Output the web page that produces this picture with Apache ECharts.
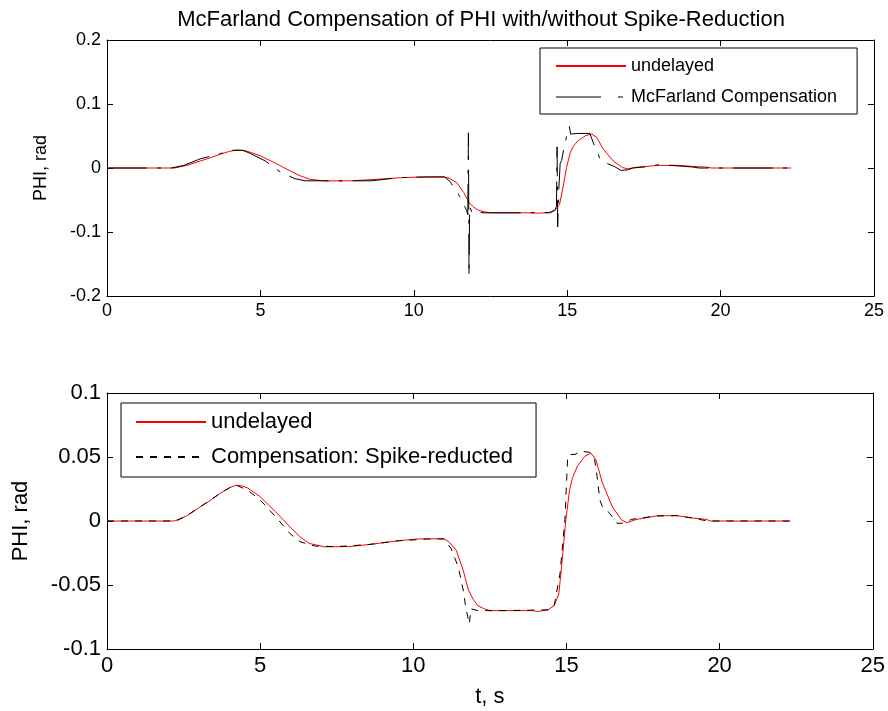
<!DOCTYPE html>
<html>
<head>
<meta charset="utf-8">
<script src="https://cdn.jsdelivr.net/npm/echarts@6/dist/echarts.min.js"></script>
<style>
  html, body { margin: 0; padding: 0; background: #fff; }
  #chart { width: 888px; height: 711px; }
</style>
</head>
<body>
<div id="chart"></div>
<script>
// Roll angle PHI (rad) over time t (s)
const tUndelayed = [0, 2.2, 2.6, 3.06, 3.4, 3.7, 4.0, 4.22, 4.4, 4.6, 5.0, 5.5, 5.97, 6.3, 6.6, 7.1, 7.9, 8.7, 9.5, 10.2, 11.0, 11.15, 11.4, 11.63, 11.8, 11.95, 12.1, 12.3, 12.5, 13.9, 14.06, 14.4, 14.6, 14.75, 14.86, 14.98, 15.1, 15.2, 15.36, 15.6, 15.8, 15.96, 16.17, 16.5, 16.8, 16.97, 17.3, 17.95, 18.6, 19.1, 19.56, 19.7, 22.3];
const phiUndelayed = [0, 0, 0.004, 0.0113, 0.0165, 0.0217, 0.026, 0.028, 0.0275, 0.0257, 0.019, 0.0073, -0.0045, -0.0123, -0.0175, -0.0202, -0.02, -0.018, -0.0154, -0.014, -0.0139, -0.016, -0.0228, -0.0385, -0.054, -0.061, -0.066, -0.0685, -0.07, -0.07, -0.0707, -0.0694, -0.066, -0.057, -0.031, 0.001, 0.024, 0.034, 0.043, 0.0505, 0.053, 0.048, 0.03, 0.011, 0.0008, -0.0013, 0.0013, 0.004, 0.0042, 0.0024, 0.0013, 0, 0];

const tMcFarland = [0, 2.1, 2.5, 3.06, 3.7, 4.03, 4.43, 4.68, 5.16, 5.65, 6.13, 6.46, 7.0, 8.6, 9.0, 9.5, 10.5, 11.0, 11.18, 11.5, 11.72, 11.76, 11.78, 11.8, 11.82, 11.9, 12.0, 12.1, 12.3, 14.45, 14.6, 14.65, 14.67, 14.69, 14.72, 14.77, 14.82, 14.9, 14.98, 15.07, 15.11, 15.36, 15.74, 15.9, 16.0, 16.08, 16.17, 16.53, 16.75, 16.97, 17.13, 17.6, 17.95, 18.4, 19.08, 19.3, 22.3];
const phiMcFarland = [0, 0, 0.004, 0.0146, 0.0225, 0.0277, 0.0277, 0.0225, 0.011, -0.0063, -0.0167, -0.02, -0.02, -0.02, -0.018, -0.015, -0.014, -0.014, -0.021, -0.045, -0.066, -0.073, 0.055, -0.169, -0.06, -0.07, -0.071, -0.069, -0.07, -0.07, -0.066, -0.06, 0.033, -0.092, -0.04, 0.007, 0.012, 0.033, 0.049, 0.065, 0.053, 0.054, 0.054, 0.033, 0.023, 0.012, 0.0094, 0.0026, -0.0037, -0.003, 0, 0.002, 0.005, 0.004, 0.0016, 0, 0];

const tSpikeReduced = [0, 2.25, 2.6, 3.06, 3.7, 4.0, 4.22, 4.6, 5.0, 5.5, 5.97, 6.3, 6.8, 7.5, 8.5, 9.5, 10.5, 11.0, 11.23, 11.47, 11.63, 11.72, 11.83, 11.88, 12.1, 13.0, 14.4, 14.6, 14.79, 14.95, 15.04, 15.12, 15.28, 15.44, 15.76, 15.92, 16.0, 16.09, 16.17, 16.41, 16.65, 16.8, 17.13, 17.95, 18.6, 19.1, 19.6, 22.3];
const phiSpikeReduced = [0, 0, 0.004, 0.0113, 0.0217, 0.026, 0.028, 0.024, 0.0165, 0.0034, -0.0097, -0.0162, -0.0196, -0.02, -0.0185, -0.0155, -0.014, -0.014, -0.0215, -0.036, -0.054, -0.0686, -0.0804, -0.0686, -0.07, -0.07, -0.0694, -0.066, -0.041, 0.001, 0.0505, 0.052, 0.052, 0.0545, 0.0537, 0.048, 0.0348, 0.0165, 0.0113, 0.006, -0.0018, -0.0018, 0.0013, 0.004, 0.0042, 0.0024, 0, 0];

// Axis ticks
const tTicks = [0, 5, 10, 15, 20, 25];
const phiTicksTop = [-0.2, -0.1, 0, 0.1, 0.2];
const phiTicksBottom = [-0.1, -0.05, 0, 0.05, 0.1];

const titleText = 'McFarland Compensation of PHI with/without Spike-Reduction';
const nameUndelayed = 'undelayed';
const nameMcFarland = 'McFarland Compensation';
const nameSpikeReduced = 'Compensation: Spike-reducted';

const FONT = 'Liberation Sans, Arial, Helvetica, sans-serif';
const DASH_DOT = [40, 10, 4, 10];
const DASHED = [7, 7];

const pairs = (xs, ys) => xs.map((x, i) => [x, ys[i]]);
const fmt = v => String(Number(v.toFixed(3)));

const tickRange = ticks => ({
  min: ticks[0],
  max: ticks[ticks.length - 1],
  interval: ticks[1] - ticks[0]
});

function xAxisFor(grid, position, showLabels, fontSize, name) {
  return Object.assign({
    type: 'value',
    gridIndex: grid,
    position: position,
    axisLine: { show: true, onZero: false, lineStyle: { color: '#000', width: 1 } },
    axisTick: { show: true, inside: true, length: 6, lineStyle: { color: '#000' } },
    axisLabel: { show: showLabels, color: '#000', fontSize: fontSize, fontFamily: FONT, margin: 6, formatter: fmt },
    splitLine: { show: false },
    name: name || '',
    nameLocation: 'middle',
    nameGap: 37,
    nameTextStyle: { color: '#000', fontSize: fontSize, fontFamily: FONT }
  }, tickRange(tTicks));
}

function yAxisFor(grid, position, showLabels, fontSize, ticks, nameGap) {
  return Object.assign({
    type: 'value',
    gridIndex: grid,
    position: position,
    axisLine: { show: true, onZero: false, lineStyle: { color: '#000', width: 1 } },
    axisTick: { show: true, inside: true, length: 6, lineStyle: { color: '#000' } },
    axisLabel: { show: showLabels, color: '#000', fontSize: fontSize, fontFamily: FONT, margin: 6, formatter: fmt },
    splitLine: { show: false },
    name: showLabels ? 'PHI, rad' : '',
    nameLocation: 'middle',
    nameRotate: 90,
    nameGap: nameGap,
    nameTextStyle: { color: '#000', fontSize: fontSize, fontFamily: FONT }
  }, tickRange(ticks));
}

// Legend swatches show only the line, no marker
const hiddenMarker = { color: 'rgba(0,0,0,0)', borderColor: 'rgba(0,0,0,0)', borderWidth: 0, opacity: 0 };

function legendFor(left, top, padding, fontSize, items) {
  return {
    orient: 'vertical',
    left: left,
    top: top,
    padding: padding,
    itemGap: 13,
    itemWidth: 70,
    itemHeight: 14,
    borderColor: '#000',
    borderWidth: 1,
    borderRadius: 0,
    backgroundColor: '#fff',
    selectedMode: false,
    itemStyle: hiddenMarker,
    textStyle: { color: '#000', fontSize: fontSize, fontFamily: FONT, lineHeight: fontSize },
    data: items
  };
}

const chart = echarts.init(document.getElementById('chart'), null, { renderer: 'canvas' });

chart.setOption({
  backgroundColor: '#fff',
  animation: false,
  title: {
    text: titleText,
    left: 476,
    textAlign: 'center',
    top: 4,
    textStyle: { color: '#000', fontSize: 22, fontWeight: 'normal', fontFamily: FONT }
  },
  grid: [
    { left: 107, right: 14, top: 40, height: 256 },
    { left: 107, right: 14, top: 393, height: 256 }
  ],
  xAxis: [
    xAxisFor(0, 'bottom', true, 18),
    xAxisFor(1, 'bottom', true, 22, 't, s'),
    xAxisFor(0, 'top', false, 18),
    xAxisFor(1, 'top', false, 22)
  ],
  yAxis: [
    yAxisFor(0, 'left', true, 18, phiTicksTop, 57),
    yAxisFor(1, 'left', true, 22, phiTicksBottom, 75),
    yAxisFor(0, 'right', false, 18, phiTicksTop, 0),
    yAxisFor(1, 'right', false, 22, phiTicksBottom, 0)
  ],
  legend: [
    legendFor(540, 48, [9, 20, 8, 15], 18, [
      { name: nameUndelayed, itemStyle: hiddenMarker },
      { name: nameMcFarland, itemStyle: hiddenMarker, lineStyle: { type: [45, 17, 5, 3], width: 1 } }
    ]),
    legendFor(121, 403, [8, 23, 9, 14], 22, [
      { name: nameUndelayed, itemStyle: hiddenMarker },
      { name: nameSpikeReduced, itemStyle: hiddenMarker }
    ])
  ],
  series: [
    {
      name: nameUndelayed, type: 'line', xAxisIndex: 0, yAxisIndex: 0,
      symbol: 'none', lineStyle: { color: '#ff0000', width: 1 }, itemStyle: { color: '#ff0000' },
      data: pairs(tUndelayed, phiUndelayed), z: 2
    },
    {
      name: nameMcFarland, type: 'line', xAxisIndex: 0, yAxisIndex: 0,
      symbol: 'none', lineStyle: { color: '#000', width: 1, type: DASH_DOT }, itemStyle: { color: '#000' },
      data: pairs(tMcFarland, phiMcFarland), z: 3
    },
    {
      name: nameUndelayed, type: 'line', xAxisIndex: 1, yAxisIndex: 1,
      symbol: 'none', lineStyle: { color: '#ff0000', width: 1 }, itemStyle: { color: '#ff0000' },
      data: pairs(tUndelayed, phiUndelayed), z: 2
    },
    {
      name: nameSpikeReduced, type: 'line', xAxisIndex: 1, yAxisIndex: 1,
      symbol: 'none', lineStyle: { color: '#000', width: 1, type: DASHED }, itemStyle: { color: '#000' },
      data: pairs(tSpikeReduced, phiSpikeReduced), z: 3
    }
  ]
});
</script>
</body>
</html>
